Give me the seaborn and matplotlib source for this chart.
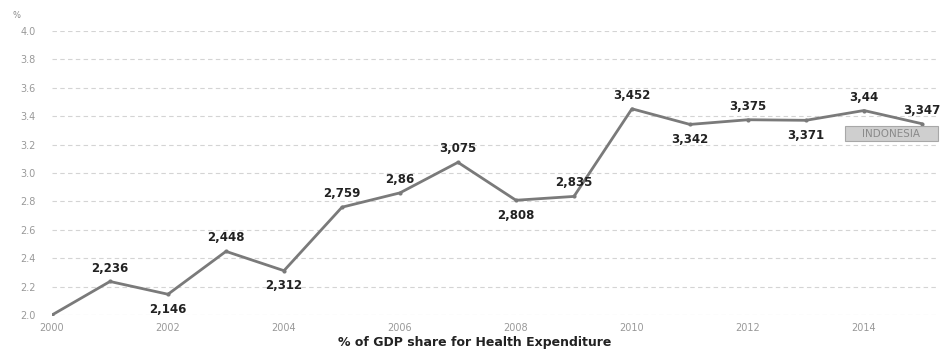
import numpy as np
import pandas as pd
import matplotlib
matplotlib.use('Agg')
import matplotlib.pyplot as plt
from matplotlib.patches import Rectangle
import seaborn as sns

years = [2000, 2001, 2002, 2003, 2004, 2005, 2006, 2007, 2008, 2009, 2010, 2011, 2012, 2013, 2014, 2015]
share = [2.0, 2.236, 2.146, 2.448, 2.312, 2.759, 2.86, 3.075, 2.808, 2.835, 3.452, 3.342, 3.375, 3.371, 3.44, 3.347]
labels = ['', '2,236', '2,146', '2,448', '2,312', '2,759', '2,86', '3,075', '2,808', '2,835',
          '3,452', '3,342', '3,375', '3,371', '3,44', '3,347']
below = [2002, 2004, 2008, 2011, 2013]
yticks = [2.0, 2.2, 2.4, 2.6, 2.8, 3.0, 3.2, 3.4, 3.6, 3.8, 4.0]
xticks = [2000, 2002, 2004, 2006, 2008, 2010, 2012, 2014]
country = 'INDONESIA'

df = pd.DataFrame({'year': years, 'share': share})

sns.set_style('white')
plt.rcParams['font.family'] = ['DejaVu Sans']
fig = plt.figure(figsize=(9.4, 3.51), dpi=100)
ax = fig.add_axes([0.0553, 0.1026, 0.944, 0.8091])

ax.grid(axis='y', color='#d4d4d4', linestyle=(0, (4, 3)), linewidth=0.8)
ax.set_axisbelow(True)
sns.lineplot(data=df, x='year', y='share', ax=ax, color='#7a7a7a', linewidth=2.0,
             marker='o', markersize=3, markeredgewidth=0, markerfacecolor='#7a7a7a')

for y, v, lab in zip(years, share, labels):
    if not lab:
        continue
    if y in below:
        ax.annotate(lab, (y, v), xytext=(0, -6), textcoords='offset points', ha='center', va='top',
                    fontsize=8.5, fontweight='bold', color='#222222')
    else:
        ax.annotate(lab, (y, v), xytext=(0, 5), textcoords='offset points', ha='center', va='bottom',
                    fontsize=8.5, fontweight='bold', color='#222222')

ax.set_xlim(2000, 2015.3)
ax.set_ylim(2.0, 4.0)
ax.set_xticks(xticks)
ax.set_yticks(yticks)
ax.set_yticklabels([f'{t:.1f}' for t in yticks])
ax.tick_params(axis='x', length=3, color='#cccccc', labelsize=7, labelcolor='#999999', pad=3)
ax.tick_params(axis='y', length=0, labelsize=7, labelcolor='#999999', pad=12)
for s in ax.spines.values():
    s.set_visible(False)
ax.set_xlabel('')
ax.set_ylabel('')

fig.text(0.013, 0.955, '%', fontsize=6, color='#888888', ha='left', va='center')
fig.text(0.505, 0.025, '% of GDP share for Health Expenditure', fontsize=9, fontweight='bold',
         color='#222222', ha='center', va='center')

# legend-like country tag
ax.add_patch(Rectangle((2013.67, 3.222), 1.6, 0.106, facecolor='#cfcfcf', edgecolor='#a8a8a8',
                       linewidth=0.8, zorder=5, clip_on=False))
ax.text(2014.47, 3.275, country, fontsize=7.5, color='#8a8a8a', ha='center', va='center', zorder=6)

fig.savefig('out.png', dpi=100)
